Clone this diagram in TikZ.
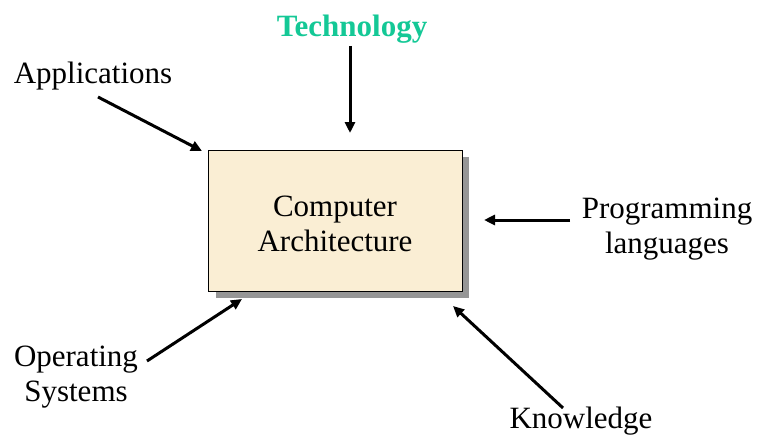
\documentclass[tikz,border=0pt]{standalone}
\usepackage{fontspec}
\setmainfont{Liberation Serif}
\usetikzlibrary{arrows.meta}
\definecolor{techgreen}{RGB}{20,200,150}
\definecolor{parchment}{RGB}{250,238,212}
\definecolor{shadowgray}{RGB}{150,150,150}
\tikzset{
  lbl/.style={align=center, inner sep=0pt, font=\fontsize{31}{35.5}\selectfont},
  inarrow/.style={line width=3pt, -{Triangle[length=11pt,width=10pt]}},
}
\begin{document}
\begin{tikzpicture}[x=1pt,y=-1pt]
\useasboundingbox (0,0) rectangle (757,436);
% drop shadow and the central box
\fill[shadowgray] (216,157) rectangle (469,298);
\node[draw=black, line width=1.2pt, fill=parchment, minimum width=254pt, minimum height=141pt,
      inner sep=0pt, anchor=north west] (box) at (208,150) {};
\node[lbl] (ca) at (335,224) {Computer\\Architecture};
% surrounding labels
\node[lbl, text=techgreen, font=\fontsize{31}{35.5}\selectfont\bfseries] (tech) at (352,29) {Technology};
\node[lbl] (apps) at (93,76) {Applications};
\node[lbl] (prog) at (667,229) {Programming\\languages};
\node[lbl] (os) at (76,377) {Operating\\Systems};
\node[lbl] (know) at (581,421) {Knowledge};
% free ends of the arrows
\coordinate (techS) at (350,46);
\coordinate (techE) at (350,133);
\coordinate (appS) at (98,97);
\coordinate (appE) at (202,151);
\coordinate (progS) at (570,220);
\coordinate (progE) at (484,220);
\coordinate (osS) at (147,361);
\coordinate (osE) at (242,299);
\coordinate (knowS) at (563,408);
\coordinate (knowE) at (453,306);
% arrows into the box
\draw[inarrow] (techS) -- (techE);
\draw[inarrow] (appS) -- (appE);
\draw[inarrow] (progS) -- (progE);
\draw[inarrow] (osS) -- (osE);
\draw[inarrow] (knowS) -- (knowE);
\end{tikzpicture}
\end{document}
